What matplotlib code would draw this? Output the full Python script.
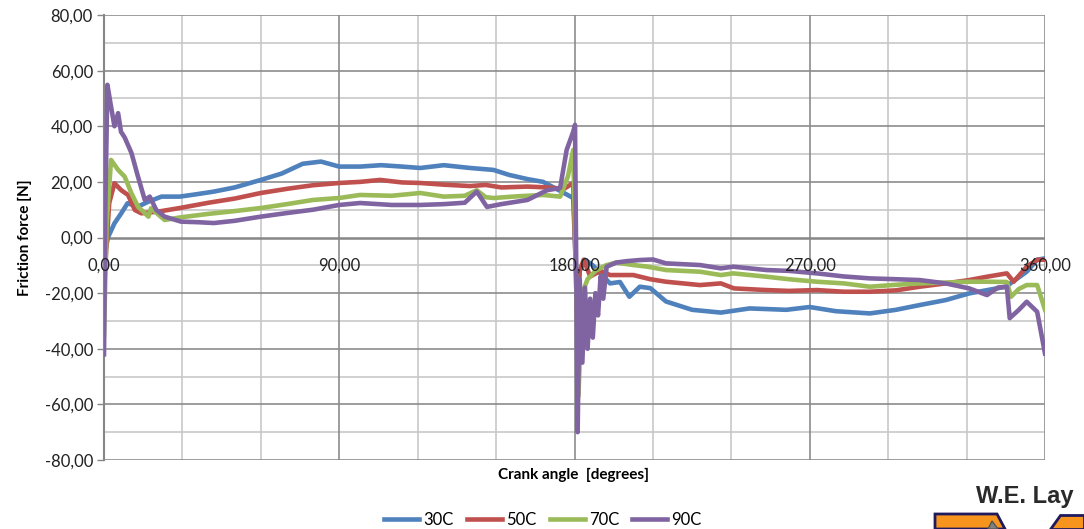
import matplotlib
matplotlib.use("Agg")
import matplotlib.pyplot as plt
from matplotlib.patches import Polygon

plt.rcParams['font.family'] = ['Lato', 'DejaVu Sans']

series_names = ["30C", "50C", "70C", "90C"]
colors = ["#4F81BD", "#C0504D", "#9BBB59", "#8064A2"]

angle_30 = [0, 0.5, 1.5, 4, 6.6, 9, 13, 17, 22, 29, 35, 42, 50, 60, 68, 76, 83, 90, 98, 106, 114, 121, 130,
            140, 149, 155, 162, 168, 174, 179.5, 180.3, 181, 182, 184, 187, 190, 193.6, 197.4, 201, 205, 209,
            215, 225, 236, 247, 261, 270, 280, 293, 303, 312, 322, 331, 338, 345, 353, 357, 360]
force_30 = [-10, -5, 0, 5.1, 8.7, 12.3, 11.1, 12.9, 14.7, 14.7, 15.5, 16.5, 18, 20.7, 23, 26.5, 27.3, 25.5,
            25.5, 26, 25.5, 25, 26, 25, 24.3, 22.5, 21, 20, 17, 14.2, -5, -20, -12, -8, -10, -13, -16.5, -16,
            -21.3, -17.7, -18.2, -23, -26, -27, -25.5, -26, -25, -26.5, -27.3, -26, -24.3, -22.5, -20.1, -18.9,
            -17.7, -12.3, -8, -7.5]

angle_50 = [0, 0.8, 2, 4, 6.6, 9.2, 11.8, 14.3, 20.7, 29, 40, 50, 60, 70, 80, 90, 98, 105.6, 114, 121, 130,
            140, 146, 152, 162, 170, 176, 179.5, 180.3, 181, 182, 183.5, 186, 190, 193.6, 202.5, 209, 215, 228,
            236, 241, 253.5, 262, 272.7, 283, 293, 303, 312, 322, 331, 337.8, 345.4, 348, 353, 357, 360]
force_50 = [-20, -5, 12.4, 19.5, 17, 15.3, 9.9, 8.7, 9.3, 10.6, 12.5, 14, 16, 17.5, 18.8, 19.6, 20, 20.7,
            19.8, 19.6, 19, 18.5, 18.9, 18, 18.3, 18, 17.5, 19.6, -5, -30, -12, -8, -14, -12, -13.5, -13.5,
            -15, -15.9, -17.1, -16.5, -18.3, -18.9, -19.2, -18.9, -19.5, -19.5, -19, -17.7, -16.5, -15.3,
            -14.1, -12.9, -15.9, -10.5, -8, -8]

angle_70 = [0, 1, 2.7, 5.4, 7.9, 10.5, 13, 17, 18, 23.2, 29, 40, 50, 60, 70, 80, 90, 98, 110, 121, 130, 138,
            142.6, 146, 149, 158, 168, 174.5, 177.5, 179.5, 180.5, 181.5, 183, 185, 188, 192, 196, 202.5, 208,
            215, 228, 236, 240.7, 253.5, 262, 272.7, 283, 293, 303, 312, 322, 331, 337.8, 345.4, 347, 350,
            353, 357, 360]
force_70 = [-35, 5, 27.9, 24.3, 21.9, 15.9, 11.1, 7.5, 10.5, 6.3, 7.2, 8.5, 9.5, 10.6, 12, 13.5, 14.2, 15.3,
            15, 16, 14.7, 15, 17, 14.5, 14.2, 14.8, 15.3, 14.7, 22, 31.5, -10, -57, -20, -15, -12, -10, -9,
            -9.9, -10.5, -11.7, -12.3, -13.5, -12.9, -14.1, -15, -15.9, -16.5, -17.7, -17, -16.5, -16.2,
            -15.9, -15.9, -16, -21.3, -18.5, -17.1, -17.1, -26]

angle_90 = [0, 0.5, 1.3, 2.7, 4, 5.4, 6.5, 7.9, 10.5, 13, 15.6, 17.5, 20, 23.2, 29.5, 36, 42, 50, 60, 70, 80,
            90, 98, 110, 121, 130, 138, 142.6, 146.5, 152, 162, 169.5, 174.5, 177, 179.5, 180.2, 181.2, 182,
            183, 184, 185, 186, 187, 188, 189, 190, 191, 192.3, 196, 200, 205, 210, 215, 228, 236, 240.7,
            253.5, 262, 272.7, 283, 293, 303, 312, 322, 331, 337.8, 342, 345.4, 346.5, 350, 353, 357, 360]
force_90 = [-42, 10, 54.9, 47, 40, 44.7, 38, 36, 30.4, 21.9, 13.5, 14.7, 9.9, 7.5, 5.7, 5.5, 5.2, 6, 7.5,
            8.8, 10, 11.7, 12.4, 11.7, 11.7, 12, 12.5, 16.5, 11, 12, 13.5, 17, 17.8, 31.5, 38, 40.5, -70,
            -15, -45, -18, -40, -22, -36, -20, -28, -14, -22, -10.5, -9, -8.5, -8.1, -7.9, -9.3, -9.9, -11.1,
            -10.5, -11.7, -12, -12.9, -14, -14.7, -15, -15.3, -16.5, -18.3, -20.7, -18, -17.7, -29, -26,
            -23.1, -26.7, -41.7]

x_ticks = [0, 90, 180, 270, 360]
x_tick_labels = ["0,00", "90,00", "180,00", "270,00", "360,00"]
y_ticks = [-80, -60, -40, -20, 0, 20, 40, 60, 80]
y_tick_labels = ["-80,00", "-60,00", "-40,00", "-20,00", "0,00", "20,00", "40,00", "60,00", "80,00"]

fig = plt.figure(figsize=(10.84, 5.29), dpi=100)
ax = fig.add_axes([104/1084, 1-460/529, (1045-104)/1084, (460-15)/529])

all_angles = [angle_30, angle_50, angle_70, angle_90]
all_forces = [force_30, force_50, force_70, force_90]
for a, f, c, n in zip(all_angles, all_forces, colors, series_names):
    ax.plot(a, f, color=c, lw=3.3, label=n, solid_joinstyle='round', zorder=3)

ax.set_xlim(0, 360)
ax.set_ylim(-80, 80)

# minor grid
for xv in range(30, 360, 30):
    if xv % 90:
        ax.axvline(xv, color="#C8C8C8", lw=1.2, zorder=1)
for yv in range(-70, 80, 20):
    ax.axhline(yv, color="#C8C8C8", lw=1.2, zorder=1)
# major grid
for xv in [90, 180, 270]:
    ax.axvline(xv, color="#8C8C8C", lw=1.2, zorder=1)
for yv in [-80, -60, -40, -20, 20, 40, 60, 80]:
    ax.axhline(yv, color="#8C8C8C", lw=1.2, zorder=1)
ax.axvline(360, color="#8C8C8C", lw=1.2, zorder=1)
ax.axhline(0, color="#868686", lw=1.8, zorder=2)

for s in ['top', 'right', 'bottom']:
    ax.spines[s].set_visible(False)
ax.spines['left'].set_color("#868686")
ax.spines['left'].set_linewidth(1.5)

ax.set_yticks(y_ticks)
ax.set_yticklabels(y_tick_labels, fontsize=12, color="#222222")
ax.tick_params(axis='y', length=5, color="#868686", width=1, pad=3)
ax.set_xticks([])
for xv, lab in zip(x_ticks, x_tick_labels):
    ax.text(xv, -10.0, lab, ha='center', va='center', fontsize=12, color="#222222", zorder=4)

ax.set_ylabel("Friction force [N]", fontsize=11, fontweight='bold', labelpad=9)
fig.text(574/1084, 1-475/529, "Crank angle  [degrees]", ha='center', va='center',
         fontsize=11, fontweight='bold')

fig.legend(loc='center', bbox_to_anchor=(543/1084, 1-520/529), ncol=4, frameon=False,
           fontsize=12, handlelength=2.1, columnspacing=0.8, handletextpad=0.25)

# logo fragment
fig.text(1025/1084, 1-497/529, "W.E. Lay", ha='center', va='center', fontsize=17,
         fontweight='bold', color="#2a2a2a", family='Liberation Sans')
W, H = 1084, 529
def fp(pts):
    return [(x/W, 1-y/H) for x, y in pts]
fig.patches.append(Polygon(fp([(935, 514), (997, 514), (1005, 529), (935, 529)]), closed=True,
                           facecolor="#F7941D", edgecolor="#1F1A5E", lw=2, transform=fig.transFigure))
fig.patches.append(Polygon(fp([(988, 529), (992, 521), (998, 529)]), closed=True,
                           facecolor="#808080", edgecolor="#555555", lw=1, transform=fig.transFigure))
fig.patches.append(Polygon(fp([(1060, 515), (1084, 515), (1084, 529), (1050, 529)]), closed=True,
                           facecolor="#F7941D", edgecolor="#1F1A5E", lw=2, transform=fig.transFigure))

fig.savefig("out.png", dpi=100)
